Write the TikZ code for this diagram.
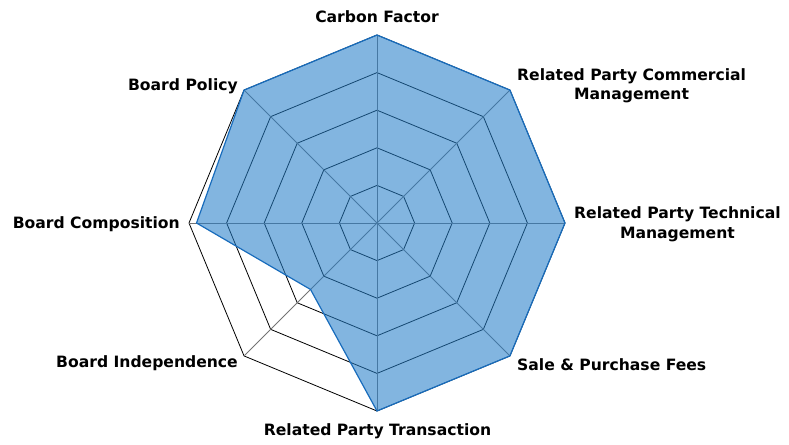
\documentclass[tikz,border=0pt]{standalone}
\usepackage{fontspec}
\setmainfont{DejaVu Sans}
\usetikzlibrary{calc}
\definecolor{scorefill}{RGB}{36,125,200}
\definecolor{scoreline}{RGB}{24,108,188}
\tikzset{ % looks of the radar chart
  ring/.style={draw=black,line width=0.8pt,line join=miter},
  spoke/.style={draw=black!55,line width=0.8pt},
  score/.style={fill=scorefill,fill opacity=0.57,draw=scoreline,line width=1.2pt,line join=miter},
  axislabel/.style={font=\bfseries\fontsize{15.6}{19.5}\selectfont,align=center,inner sep=0pt}
}
\begin{document}
\begin{tikzpicture}[x=1pt,y=1pt]
\useasboundingbox (-377,-221) rectangle (412,223);

\coordinate (o) at (0,0);
% rings, 5 steps of 37.6
\foreach \r in {1,...,5}
  \draw[ring] (90:37.6*\r) -- (45:37.6*\r) -- (0:37.6*\r) -- (-45:37.6*\r)
    -- (-90:37.6*\r) -- (-135:37.6*\r) -- (180:37.6*\r) -- (135:37.6*\r) -- cycle;
% spokes
\foreach \i in {0,...,7} {
  \coordinate (v\i) at (90-45*\i:188);
  \draw[spoke] (o) -- (v\i);
}
% scores
\foreach \v [count=\i from 0] in {5,5,5,5,5,2.5,4.8,5}
  \coordinate (p\i) at (90-45*\i:37.6*\v);
\draw[score] (p0) -- (p1) -- (p2) -- (p3) -- (p4) -- (p5) -- (p6) -- (p7) -- cycle;

% axis labels
\node[axislabel] (carbon) at (0,206.5) {Carbon Factor};
\node[axislabel,anchor=west] (commercial) at (140,137) {Related Party Commercial\\Management};
\node[axislabel,anchor=west] (technical) at (197,-1.5) {Related Party Technical\\Management};
\node[axislabel,anchor=west] (salefees) at (140,-141.5) {Sale \& Purchase Fees};
\node[axislabel] (transaction) at (0.5,-208.5) {Related Party Transaction};
\node[axislabel,anchor=east] (independence) at (-139,-140.5) {Board Independence};
\node[axislabel,anchor=east] (composition) at (-197,-1.5) {Board Composition};
\node[axislabel,anchor=east] (policy) at (-139,136.5) {Board Policy};

\end{tikzpicture}
\end{document}
